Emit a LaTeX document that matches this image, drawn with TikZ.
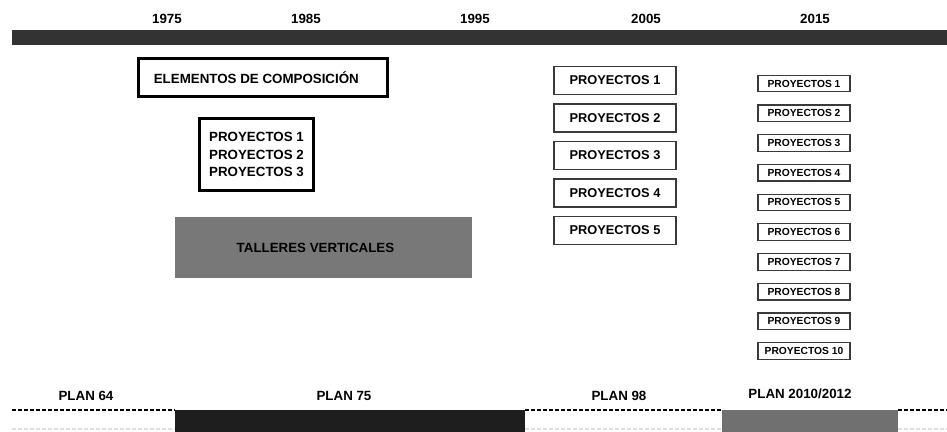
\documentclass[tikz,border=0pt]{standalone}
\usepackage{fontspec}
\setmainfont{Liberation Sans}
\usepackage{tikz}
\usetikzlibrary{positioning}
\definecolor{bardark}{HTML}{333333}
\definecolor{barblack}{HTML}{1E1E1E}
\definecolor{bargray}{HTML}{707070}
\definecolor{tallergray}{HTML}{787878}
\definecolor{boxgray}{HTML}{3A3A3A}
\tikzstyle{yearlabel} = [font=\bfseries\fontsize{10}{12}\selectfont, inner sep=0pt]
\tikzstyle{planlabel} = [font=\bfseries\fontsize{10}{12}\selectfont, inner sep=0pt]
\tikzstyle{thickbox} = [draw=black, line width=2.2pt, fill=white,
    font=\bfseries\fontsize{10}{13}\selectfont, align=left, inner sep=2pt]
\tikzstyle{projbox} = [draw=boxgray, line width=1.1pt, fill=white,
    minimum width=91.5pt, minimum height=21pt, font=\bfseries\fontsize{9.6}{11}\selectfont]
\tikzstyle{smallbox} = [draw=boxgray, line width=0.9pt, fill=white, inner sep=1pt,
    minimum width=69pt, minimum height=12.5pt, font=\bfseries\fontsize{7.7}{9}\selectfont]
\tikzstyle{planline} = [draw=black, line width=1.1pt, dash pattern=on 3pt off 1.5pt]

\begin{document}
\begin{tikzpicture}[x=0.75pt, y=-0.75pt, node distance=28.125pt]
    \useasboundingbox (0,0) rectangle (947,432);
    \clip (0,0) rectangle (947,432);

    % We start with the time axis
    \fill [bardark] (12,30) rectangle (947,45);
    \node [yearlabel] (y1975) at (167,19) {1975};
    \node [yearlabel] (y1985) at (306,19) {1985};
    \node [yearlabel] (y1995) at (475,19) {1995};
    \node [yearlabel] (y2005) at (646,19) {2005};
    \node [yearlabel] (y2015) at (815,19) {2015};

    % Plan 75 courses
    \node [thickbox, align=center, minimum width=186.75pt, minimum height=28.5pt] (elementos) at (263,77.5) {ELEMENTOS DE COMPOSICIÓN\hspace{10pt}};
    \node [thickbox, minimum width=85.5pt, minimum height=54pt] (proy75) at (256.5,154.5) {PROYECTOS 1\\PROYECTOS 2\\PROYECTOS 3};
    \node [fill=tallergray, minimum width=222.75pt, minimum height=45.75pt,
        font=\bfseries\fontsize{10}{12}\selectfont] (talleres) at (323.5,247.5) {TALLERES VERTICALES\hspace*{12pt}};

    % Plan 98 courses
    \node [projbox] (pa1) at (615,80.5) {PROYECTOS 1};
    \foreach \i [remember=\i as \lasti (initially 1)] in {2,...,5}
        \node [projbox, below of=pa\lasti] (pa\i) {PROYECTOS \i};

    % Plan 2010/2012 courses
    \node [smallbox] (pb1) at (804,83.5) {PROYECTOS 1};
    \foreach \i [remember=\i as \lasti (initially 1)] in {2,...,10}
        \node [smallbox, below of=pb\lasti, node distance=22.3pt] (pb\i) {PROYECTOS \i};

    % Once the courses are placed, the plans go at the bottom
    \draw [planline] (12,410) -- (175,410);
    \fill [barblack] (175,410) rectangle (525,440);
    \draw [planline] (525,410) -- (722,410);
    \fill [bargray] (722,410) rectangle (898,440);
    \draw [planline] (898,410) -- (947,410);
    \draw [gray!25, line width=0.8pt, dash pattern=on 3pt off 1.5pt] (12,429) -- (175,429) (525,429) -- (722,429) (898,429) -- (947,429);
    \node [planlabel] (plan64) at (86,396) {PLAN 64};
    \node [planlabel] (plan75) at (344,396) {PLAN 75};
    \node [planlabel] (plan98) at (619,396) {PLAN 98};
    \node [planlabel] (plan10) at (800,394) {PLAN 2010/2012};
\end{tikzpicture}
\end{document}
